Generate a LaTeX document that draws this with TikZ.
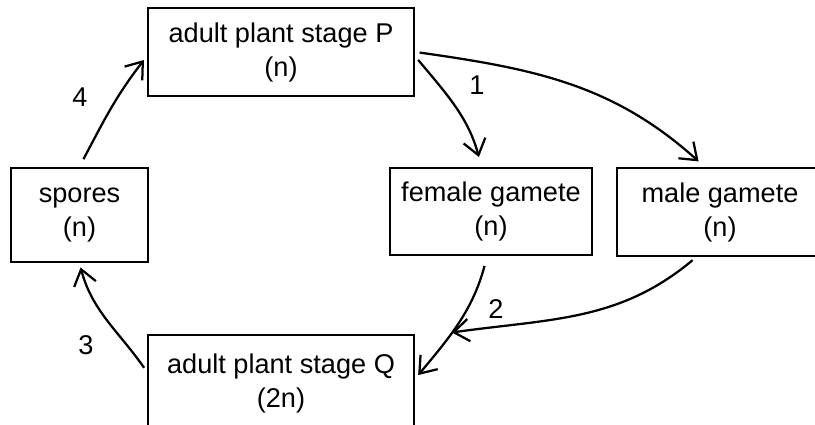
\documentclass[tikz,border=0pt]{standalone}
\usepackage{fontspec}
\setmainfont{Liberation Sans}
\usepackage{tikz}
\usetikzlibrary{arrows.meta}

\begin{document}
\begin{tikzpicture}[x = 0.025cm, y = -0.025cm]
	\tikzstyle{stage}=[draw,rectangle,line width = 2pt,black,inner sep = 0pt,align = center,font = \fontsize{19.3}{24.2}\selectfont]
	\tikzstyle{arr}=[draw,line width = 1.6pt,-{Straight Barb[length = 0.38cm,width = 0.56cm]},shorten <= 3pt,shorten >= 3pt]
	\tikzstyle{num}=[font = \fontsize{19.3}{24.2}\selectfont]
	\useasboundingbox (0,0) rectangle (815,425);
	\clip (0,0) rectangle (815,425);
	\node[stage,minimum width = 6.65cm,minimum height = 2.2cm] (p) at (281,52) {adult plant stage P\\(n)};
	\node[stage,minimum width = 3.425cm,minimum height = 2.35cm] (spores) at (79.5,215) {spores\\(n)};
	\node[stage,minimum width = 5.05cm,minimum height = 2.175cm] (fem) at (491,211.5) {female gamete\\(n)};
	\node[stage,minimum width = 5.15cm,minimum height = 2.2cm] (male) at (720,212) {male gamete\\(n)};
	\node[stage,minimum width = 6.65cm,minimum height = 2.4cm] (q) at (281,383) {adult plant stage Q\\(2n)};
	\draw[arr,shorten >= 5.5pt] (p.east) to[out = -8,in = 138] (male.109);
	\draw[arr,shorten >= 7pt] (p.-2) to[out = -50,in = 105] (fem.102);
	\draw[arr,shorten <= 6pt] (spores.north) to[out = 62,in = -128] (p.182);
	\draw[arr] (q.175) to[out = 125,in = -75] (spores.south);
	\draw[arr,shorten <= 7pt] (fem.-95) to[out = -105,in = 50] coordinate[pos = 0.6] (meet) (q.2);
	\draw[arr,shorten >= 0pt] (male.-118) to[out = -140,in = 8] (meet);
	\node[num] (one) at (477,85) {1};
	\node[num] (two) at (496,309) {2};
	\node[num] (three) at (86,345) {3};
	\node[num] (four) at (80,97) {4};
\end{tikzpicture}
\end{document}
